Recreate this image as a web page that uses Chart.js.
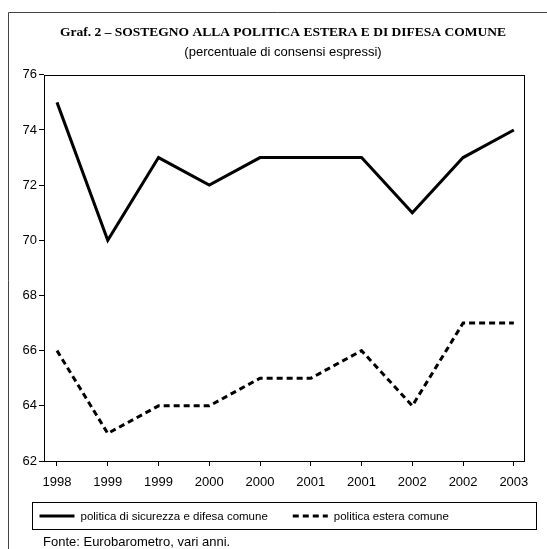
<!DOCTYPE html>
<html>
<head>
<meta charset="utf-8">
<script src="https://cdn.jsdelivr.net/npm/chart.js@4.4.1/dist/chart.umd.min.js"></script>
<style>
  html, body { margin: 0; padding: 0; background: #fff; }
  canvas { display: block; }
</style>
</head>
<body>
<canvas id="c" width="547" height="549"></canvas>
<script>
// ---- data ----
const categories = ['1998', '1999', '1999', '2000', '2000', '2001', '2001', '2002', '2002', '2003'];
const sicurezzaDifesa = [75, 70, 73, 72, 73, 73, 73, 71, 73, 74];
const politicaEstera = [66, 63, 64, 64, 65, 65, 66, 64, 67, 67];
const yTicks = [62, 64, 66, 68, 70, 72, 74, 76];
const seriesNames = ['politica di sicurezza e difesa comune', 'politica estera comune'];
const titleText = 'Graf. 2 \u2013 SOSTEGNO ALLA POLITICA ESTERA E DI DIFESA COMUNE';
const subtitleText = '(percentuale di consensi espressi)';
const sourceText = 'Fonte: Eurobarometro, vari anni.';

const toPoints = arr => arr.map((v, i) => ({ x: i, y: v }));
const SANS = '"Liberation Sans", Arial, sans-serif';
const SERIF = '"Liberation Serif", "Times New Roman", serif';

const framePlugin = {
  id: 'framePlugin',
  afterDraw(chart) {
    const ctx = chart.ctx;
    const ca = chart.chartArea;
    ctx.save();
    // outer frame (top and left)
    ctx.strokeStyle = '#444';
    ctx.lineWidth = 1;
    ctx.beginPath();
    ctx.moveTo(chart.width, 12.5);
    ctx.lineTo(8.5, 12.5);
    ctx.lineTo(8.5, chart.height);
    ctx.stroke();
    // plot box
    ctx.strokeStyle = '#000';
    ctx.strokeRect(Math.round(ca.left) + 0.5, Math.round(ca.top) + 0.5,
                   Math.round(ca.right - ca.left), Math.round(ca.bottom - ca.top));
    // legend box
    const lx = Math.round(ca.left) - 11.5;
    const rx = Math.round(ca.right) + 12.5;
    const ty = Math.round(ca.bottom) + 41.5;
    const by = ty + 27;
    ctx.strokeRect(lx, ty, rx - lx, by - ty);
    const cy = (ty + by) / 2;
    ctx.font = '11.5px ' + SANS;
    ctx.fillStyle = '#000';
    ctx.textBaseline = 'middle';
    ctx.textAlign = 'left';
    let x = lx + 7;
    chart.data.datasets.forEach((ds, i) => {
      ctx.beginPath();
      ctx.lineWidth = ds.borderWidth;
      ctx.strokeStyle = ds.borderColor;
      ctx.setLineDash(ds.borderDash || []);
      ctx.moveTo(x, cy);
      ctx.lineTo(x + 35, cy);
      ctx.stroke();
      ctx.setLineDash([]);
      const tx = x + 41;
      ctx.fillText(ds.label, tx, cy + 0.5);
      x = tx + ctx.measureText(ds.label).width + 25;
    });
    // source note
    ctx.font = '13px ' + SANS;
    ctx.fillText(sourceText, Math.round(ca.left) - 1, chart.height - 7);
    ctx.restore();
  }
};

new Chart(document.getElementById('c'), {
  type: 'line',
  data: {
    datasets: [
      {
        label: seriesNames[0],
        data: toPoints(sicurezzaDifesa),
        borderColor: '#000',
        backgroundColor: '#000',
        borderWidth: 3,
        pointRadius: 0,
        tension: 0,
        fill: false
      },
      {
        label: seriesNames[1],
        data: toPoints(politicaEstera),
        borderColor: '#000',
        backgroundColor: '#000',
        borderWidth: 3,
        borderDash: [6, 4],
        pointRadius: 0,
        tension: 0,
        fill: false
      }
    ]
  },
  options: {
    responsive: false,
    animation: false,
    devicePixelRatio: 1,
    layout: { padding: { left: 19, right: 0, top: 0, bottom: 58 } },
    plugins: {
      legend: { display: false },
      tooltip: { enabled: false },
      title: {
        display: true,
        text: titleText,
        color: '#000',
        font: { family: SERIF, size: 13.5, weight: 'bold', lineHeight: 1.2 },
        padding: { top: 24, bottom: 4 }
      },
      subtitle: {
        display: true,
        text: subtitleText,
        color: '#000',
        font: { family: SANS, size: 13, weight: 'normal', lineHeight: 1.2 },
        padding: { top: 0, bottom: 15 }
      }
    },
    scales: {
      x: {
        type: 'linear',
        min: -0.256,
        max: 9.2,
        afterBuildTicks: s => { s.ticks = categories.map((_, i) => ({ value: i })); },
        afterFit: s => { s.height = 30; },
        grid: { drawOnChartArea: false, drawTicks: true, tickLength: 5, color: '#000', tickColor: '#000' },
        border: { display: false },
        ticks: {
          color: '#000',
          font: { family: SANS, size: 13 },
          padding: 9,
          maxRotation: 0,
          autoSkip: false,
          callback: v => categories[v]
        }
      },
      y: {
        type: 'linear',
        position: 'left',
        min: 62,
        max: 76,
        afterBuildTicks: s => { s.ticks = yTicks.map(v => ({ value: v })); },
        afterFit: s => { s.width = 25; },
        grid: { drawOnChartArea: false, drawTicks: true, tickLength: 5, color: '#000', tickColor: '#000' },
        border: { display: false },
        ticks: {
          color: '#000',
          font: { family: SANS, size: 13 },
          padding: 2,
          callback: v => String(v)
        }
      },
      yRight: {
        type: 'linear',
        position: 'right',
        min: 62,
        max: 76,
        afterFit: s => { s.width = 23; },
        grid: { display: false },
        border: { display: false },
        ticks: { display: false }
      }
    }
  },
  plugins: [framePlugin]
});
</script>
</body>
</html>
